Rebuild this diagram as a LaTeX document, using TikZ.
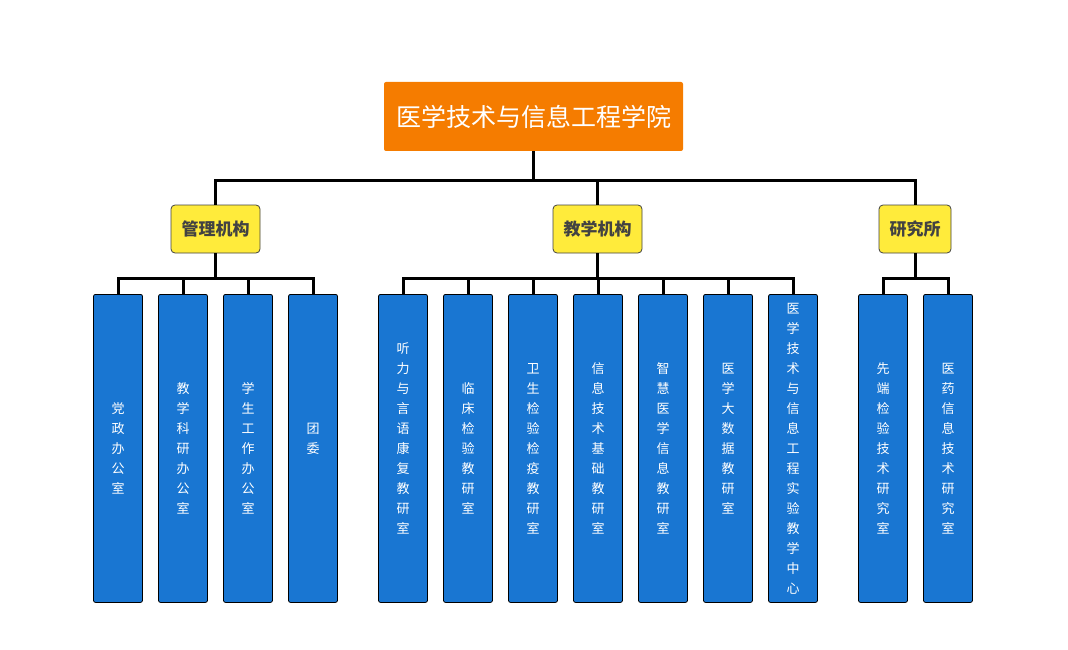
\documentclass[tikz,border=0pt]{standalone}
\usepackage{fontspec}
\newfontfamily\cjk{Noto Sans CJK SC}
\definecolor{rootc}{HTML}{F57C00}
\definecolor{midc}{HTML}{FFEB3B}
\definecolor{leafc}{HTML}{1976D2}
\definecolor{midtxt}{HTML}{424242}
\tikzset{
  rootbox/.style={fill=rootc, draw=none, rounded corners=2pt, minimum width=299pt, minimum height=69pt, text=white, font=\cjk\fontsize{25}{28}\selectfont, inner sep=0pt},
  midbox/.style={fill=midc, draw=midtxt, line width=0.8pt, rounded corners=4pt, minimum height=48pt, text=midtxt, font=\cjk\bfseries\fontsize{17}{20}\selectfont, inner sep=0pt},
  leafbox/.style={fill=leafc, draw=black, line width=0.8pt, rounded corners=2pt, minimum width=49pt, minimum height=308pt, text=white, font=\cjk\fontsize{13}{20}\selectfont, align=center, anchor=north, inner sep=0pt},
  link/.style={line width=3pt, line join=miter}
}
\newcommand{\evenpad}{\\\mbox{}}
\begin{document}
\begin{tikzpicture}[x=1pt,y=-1pt]
\useasboundingbox (0,0) rectangle (1068,650);
\node[rootbox] (root) at (533.5,116.5) {医学技术与信息工程学院};
\node[midbox, minimum width=89pt] (g1) at (215.5,229) {管理机构};
\node[midbox, minimum width=89pt] (g2) at (597.5,229) {教学机构};
\node[midbox, minimum width=72pt] (g3) at (915,229) {研究所};
\coordinate (bus0) at (533.5,180);
\coordinate (bus1) at (215.5,278);
\coordinate (bus2) at (597.5,278);
\coordinate (bus3) at (915,278);
% leaves
\node[leafbox] (a1) at (118,294) {党\\政\\办\\公\\室};
\node[leafbox] (a2) at (183,294) {教\\学\\科\\研\\办\\公\\室};
\node[leafbox] (a3) at (248,294) {学\\生\\工\\作\\办\\公\\室};
\node[leafbox] (a4) at (313,294) {团\\委\evenpad};
\node[leafbox] (b1) at (403,294) {听\\力\\与\\言\\语\\康\\复\\教\\研\\室\evenpad};
\node[leafbox] (b2) at (468,294) {临\\床\\检\\验\\教\\研\\室};
\node[leafbox] (b3) at (533,294) {卫\\生\\检\\验\\检\\疫\\教\\研\\室};
\node[leafbox] (b4) at (598,294) {信\\息\\技\\术\\基\\础\\教\\研\\室};
\node[leafbox] (b5) at (663,294) {智\\慧\\医\\学\\信\\息\\教\\研\\室};
\node[leafbox] (b6) at (728,294) {医\\学\\大\\数\\据\\教\\研\\室\evenpad};
\node[leafbox] (b7) at (793,294) {医\\学\\技\\术\\与\\信\\息\\工\\程\\实\\验\\教\\学\\中\\心};
\node[leafbox] (c1) at (883,294) {先\\端\\检\\验\\技\\术\\研\\究\\室};
\node[leafbox] (c2) at (948,294) {医\\药\\信\\息\\技\\术\\研\\究\\室};
% connectors
\draw[link] (root.south) -- (bus0);
\draw[link] (g1.north) |- (bus0);
\draw[link] (g2.north) |- (bus0);
\draw[link] (g3.north) |- (bus0);
\draw[link] (g1.south) -- (bus1);
\draw[link] (g2.south) -- (bus2);
\draw[link] (g3.south) -- (bus3);
\foreach \n in {a1,a2,a3,a4} \draw[link] (\n.north) |- (bus1);
\foreach \n in {b1,b2,b3,b4,b5,b6,b7} \draw[link] (\n.north) |- (bus2);
\foreach \n in {c1,c2} \draw[link] (\n.north) |- (bus3);
\end{tikzpicture}
\end{document}
